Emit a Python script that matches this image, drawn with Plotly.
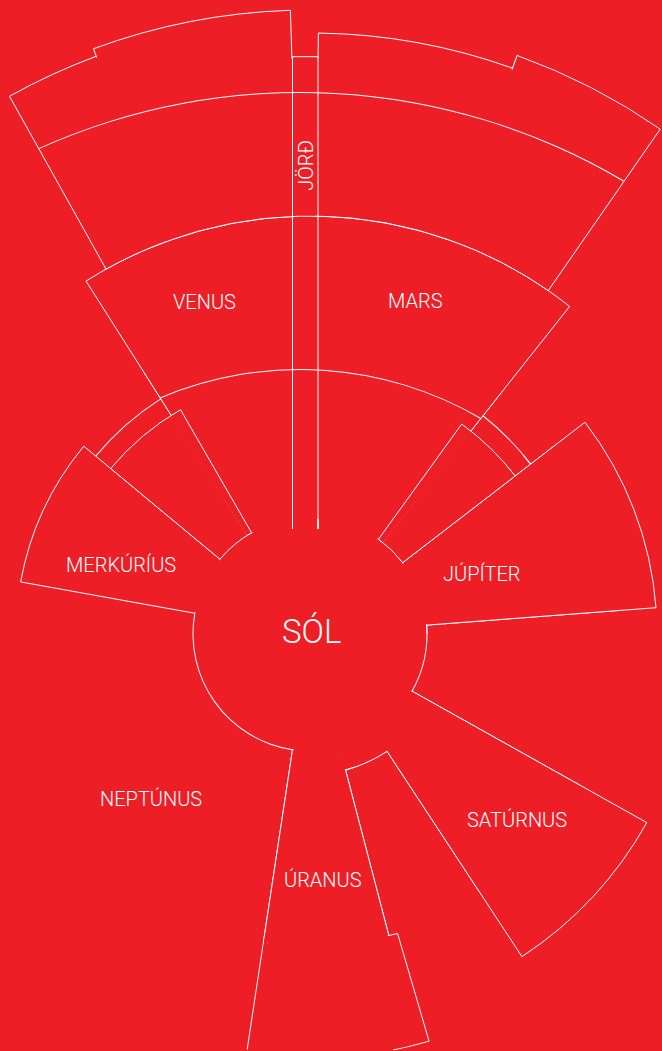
import numpy as np
import plotly.graph_objects as go

W, H = 662, 1051
RED = "#ED1E25"
WHITE = "#FFFFFF"
FONT = "Roboto, 'Liberation Sans', sans-serif"

# ---------------- data ----------------
# Wedges of the sun-centred polar chart (degrees counter-clockwise from east, radius in chart units)
wedge_names = ["VENUS / MARS", "BELTI A", "BELTI B", "BELTI C", "BELTI D",
               "MERKÚRÍUS", "MERKÚRÍUS INNRI", "JÚPÍTER", "JÚPÍTER INNRI",
               "SATÚRNUS", "ÚRANUS", "ÚRANUS YTRI"]
theta_from = [51.6, 110.3, 91.8, 70.3, 55.25, 140.3, 120.0, 4.35, 37.6, 303.3, 261.4, 261.4]
theta_to = [122.4, 119.2, 110.3, 89.2, 70.3, 169.8, 140.3, 37.6, 54.15, 330.75, 284.65, 286.3]
r_base = [117, 418, 418, 418, 418, 117, 117, 117, 117, 117, 117, 312]
r_top = [418, 616, 624, 601, 614.5, 294, 259, 347, 259, 386, 312, 424.3]

# the sun (SÓL): radius and the open parts of its rim
SUN_R = 117
sun_rim_from = [169.8, 330.75]
sun_rim_to = [261.4, 364.35]

# orbit arcs around the sun centre
arc_theta_from = [122.4, 37.6, 284.65]
arc_theta_to = [140.3, 51.6, 303.3]
arc_r = [278.5, 278.5, 140.5]

# outer orbit arcs, drawn around their own (lower) centre
orbit_theta_from = [59.7, 59.4]
orbit_theta_to = [112.97, 114.27]
orbit_r = [358.5, 635.5]

# Jörð strip (offsets from the sun centre)
jord_x = [-17.5, 8.0]
jord_y = [105.0, 577.3]

# ---------------- styling helpers (masks hide seams where segments are joined) ----------------
mask_theta_from = [109.8, 69.8, 88.6, 261.52, 284.2, 140.8, 54.65, 4.85, 261.9]
mask_theta_to = [110.8, 70.8, 92.4, 284.45, 303.8, 169.3, 119.5, 37.1, 330.25]
mask_r_base = [418.55, 418.55, 418.55, 306, 115.5, 115.5, 115.5, 115.5, 115.5]
mask_r_top = [614.5, 599.5, 576.0, 318, 139.8, 118.5, 118.5, 118.5, 118.5]

label_text = ["SÓL", "MERKÚRÍUS", "VENUS", "JÖRÐ", "MARS", "JÚPÍTER", "SATÚRNUS", "ÚRANUS", "NEPTÚNUS"]
label_x = [311, 120.7, 204.3, 305.3, 415.3, 481.8, 517.3, 323, 150.8]
label_y = [631.3, 564.5, 302, 165.5, 300.8, 573.5, 819.5, 880.3, 798.8]
label_size = [33, 20, 20, 20, 20, 20, 20, 20, 20]
label_angle = [0, 0, 0, -90, 0, 0, 0, 0, 0]

# layout: all sun-centred panels share one centre and scale (1 unit = 1 px); each panel shows one sector
SUN_C = (310.0, 634.0)
ORBIT_C = (300.0, 728.0)
main_sectors = [((0, 360), 310.0), ((0, 40), 351.0), ((302.5, 331.5), 390.0), ((281.3, 288), 425.0),
                ((260.8, 262.2), 420.5), ((51.4, 122.6), 420.0), ((70.1, 119.4), 628.0), ((55.1, 70.5), 615.0)]
orbit_sector = ((58.5, 114.8), 645.0)


def sector_bbox(s0, s1):
    arc = s1 - s0
    a0 = s0 % 360
    a1 = a0 + arc
    ax0, ay0 = np.cos(np.radians(a0)), np.sin(np.radians(a0))
    ax1, ay1 = np.cos(np.radians(a1)), np.sin(np.radians(a1))
    if (a0 <= 90 and a1 >= 90) or (a0 > 90 and a1 >= 450):
        y1 = 1
    elif ay0 <= 0 and ay1 <= 0:
        y1 = 0
    else:
        y1 = max(ay0, ay1)
    if (a0 <= 180 and a1 >= 180) or (a0 > 180 and a1 >= 540):
        x0 = -1
    elif ax0 >= 0 and ax1 >= 0:
        x0 = 0
    else:
        x0 = min(ax0, ax1)
    if (a0 <= 270 and a1 >= 270) or (a0 > 270 and a1 >= 630):
        y0 = -1
    elif ay0 >= 0 and ay1 >= 0:
        y0 = 0
    else:
        y0 = min(ay0, ay1)
    if a1 >= 360:
        x1 = 1
    elif ax0 <= 0 and ax1 <= 0:
        x1 = 0
    else:
        x1 = max(ax0, ax1)
    return x0, y0, x1, y1


def polar_layout(centre, sector, R):
    cx, cy = centre
    x0, y0, x1, y1 = sector_bbox(*sector)
    clip = lambda v: float(min(1.0, max(0.0, v)))
    return dict(
        domain=dict(x=[clip((cx + R * x0) / W), clip((cx + R * x1) / W)],
                    y=[clip(1 - (cy - R * y0) / H), clip(1 - (cy - R * y1) / H)]),
        sector=list(sector), bgcolor="rgba(0,0,0,0)", barmode="overlay", hole=0,
        radialaxis=dict(visible=False, range=[0, R]),
        angularaxis=dict(visible=False, rotation=0, direction="counterclockwise"))


fig = go.Figure()


def add_bars(subplot, tf, tt, rb, rt, fill, line_w):
    tf = np.asarray(tf, float)
    tt = np.asarray(tt, float)
    rb = np.asarray(rb, float)
    rt = np.asarray(rt, float)
    width = tt - tf
    fig.add_trace(go.Barpolar(
        theta=tf + width / 2, width=width, base=rb, r=rt - rb, subplot=subplot,
        marker=dict(color=fill, line=dict(color=WHITE, width=line_w)),
        hoverinfo="skip", showlegend=False))


def add_arcs(subplot, tf, tt, radius, thickness=1.0):
    radius = np.asarray(radius, float)
    add_bars(subplot, tf, tt, radius - thickness / 2, radius + thickness / 2, WHITE, 0)


jx = np.array([jord_x[0], jord_x[0], jord_x[1], jord_x[1]])
jy = np.array([jord_y[0], jord_y[1], jord_y[1], jord_y[0]])

polars = {}
for k, (sector, R) in enumerate(main_sectors):
    sp = "polar" if k == 0 else f"polar{k + 1}"
    polars[sp] = polar_layout(SUN_C, sector, R)
    add_arcs(sp, sun_rim_from, sun_rim_to, [SUN_R] * len(sun_rim_from))
    add_bars(sp, theta_from, theta_to, r_base, r_top, RED, 1)
    add_bars(sp, mask_theta_from, mask_theta_to, mask_r_base, mask_r_top, RED, 0)
    add_arcs(sp, arc_theta_from, arc_theta_to, arc_r)
    fig.add_trace(go.Scatterpolar(
        r=np.hypot(jx, jy), theta=np.degrees(np.arctan2(jy, jx)), mode="lines",
        line=dict(color=WHITE, width=1), subplot=sp, hoverinfo="skip", showlegend=False))

sp = f"polar{len(main_sectors) + 1}"
polars[sp] = polar_layout(ORBIT_C, *orbit_sector)
add_arcs(sp, orbit_theta_from, orbit_theta_to, orbit_r)

fig.update_layout(width=W, height=H, margin=dict(l=0, r=0, t=0, b=0),
                  paper_bgcolor=RED, plot_bgcolor=RED, showlegend=False, **polars)

for t, x, y, s, a in zip(label_text, label_x, label_y, label_size, label_angle):
    fig.add_annotation(text=t, x=x / W, y=1 - y / H, xref="paper", yref="paper", showarrow=False,
                       xanchor="center", yanchor="middle", textangle=a,
                       font=dict(family=FONT, size=s, color=WHITE, weight=300))

fig.write_html("out.html", config={"displayModeBar": False},
               post_script="document.body.style.margin='0px';document.body.style.overflow='hidden';")
